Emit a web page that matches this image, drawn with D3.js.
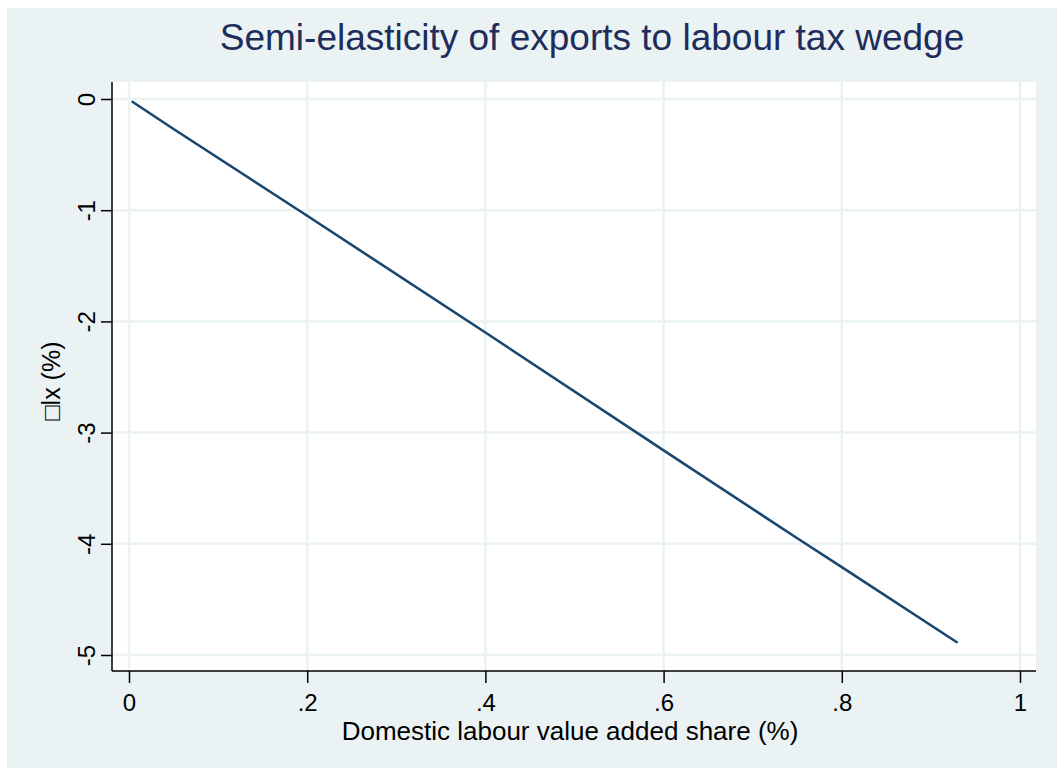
<!DOCTYPE html>
<html><head><meta charset="utf-8">
<script src="https://cdn.jsdelivr.net/npm/d3@7"></script>
<style>body{margin:0;background:#fff}svg{display:block}</style>
</head><body>
<svg id="c" width="1057" height="769"></svg>
<script>
const shareX = [0.003, 0.05, 0.2, 0.4, 0.6, 0.75, 0.8, 0.93];
const semiY = [-0.02, -0.27, -1.05, -2.10, -3.16, -3.95, -4.21, -4.89];
const xTicks = [0, 0.2, 0.4, 0.6, 0.8, 1];
const xTickLabels = ["0", ".2", ".4", ".6", ".8", "1"];
const yTicks = [0, -1, -2, -3, -4, -5];
const yTickLabels = ["0", "-1", "-2", "-3", "-4", "-5"];
const title = "Semi-elasticity of exports to labour tax wedge";
const xTitle = "Domestic labour value added share (%)";
const yTitle = "\u25A1lx (%)";

const svg = d3.select("#c");
const font = "Arial, 'Liberation Sans', Helvetica, sans-serif";
svg.append("rect").attr("x",7).attr("y",8).attr("width",1050).attr("height",760).attr("fill","#eaf2f3");

const x = d3.scaleLinear().domain([0,1]).range([129,1020]);
const y = d3.scaleLinear().domain([0,-5]).range([99,655]);
const L=112, R=1036, T=82, B=671;
svg.append("rect").attr("x",L).attr("y",T).attr("width",R-L).attr("height",B-T).attr("fill","#fff");

// gridlines
const g = svg.append("g");
g.selectAll(".vg").data(xTicks).join("line")
 .attr("x1",d=>x(d)).attr("x2",d=>x(d)).attr("y1",T).attr("y2",B)
 .attr("stroke","#eaf2f3").attr("stroke-width",2.5);
g.selectAll(".hg").data(yTicks).join("line")
 .attr("y1",d=>y(d)).attr("y2",d=>y(d)).attr("x1",L).attr("x2",R)
 .attr("stroke","#eaf2f3").attr("stroke-width",2.5);

// line
const line = d3.line().x((d,i)=>x(shareX[i])).y(d=>y(d));
svg.append("path").datum(semiY).attr("d",line).attr("fill","none")
 .attr("stroke","#1a476f").attr("stroke-width",2.6).attr("stroke-linejoin","round");

// axes
const xAxis = d3.axisBottom(x).tickValues(xTicks).tickFormat((d,i)=>xTickLabels[i]).tickSizeOuter(0).tickSize(12).tickPadding(11);
const xa = svg.append("g").attr("transform",`translate(0,${B})`).call(xAxis);
xa.select(".domain").remove();
xa.append("line").attr("x1",L).attr("x2",R).attr("y1",0).attr("y2",0).attr("stroke","#000").attr("stroke-width",1.5);
xa.selectAll(".tick line").attr("stroke","#000").attr("stroke-width",1.5);
xa.selectAll(".tick text").attr("font-family",font).attr("font-size",24).attr("fill","#000");

const yAxis = d3.axisLeft(y).tickValues(yTicks).tickFormat((d,i)=>yTickLabels[i]).tickSizeOuter(0).tickSize(11).tickPadding(6);
const ya = svg.append("g").attr("transform",`translate(${L},0)`).call(yAxis);
ya.select(".domain").remove();
ya.append("line").attr("x1",0).attr("x2",0).attr("y1",T).attr("y2",B).attr("stroke","#000").attr("stroke-width",1.5);
ya.selectAll(".tick line").attr("stroke","#000").attr("stroke-width",1.5);
ya.selectAll(".tick text").attr("font-family",font).attr("font-size",24).attr("fill","#000")
  .attr("x",null).attr("dy",null).attr("text-anchor","middle")
  .attr("transform","translate(-17,0) rotate(-90)").attr("dy","0");

// titles
svg.append("text").attr("x",592).attr("y",50).attr("text-anchor","middle")
 .attr("font-family",font).attr("font-size",37).attr("fill","#1e2d5a").text(title);
svg.append("text").attr("x",570).attr("y",740).attr("text-anchor","middle")
 .attr("font-family",font).attr("font-size",26).attr("fill","#000").text(xTitle);
svg.append("text").attr("transform","translate(60,381) rotate(-90)").attr("text-anchor","middle")
 .attr("font-family",font).attr("font-size",25).attr("fill","#000").text(yTitle);
</script>
</body></html>
